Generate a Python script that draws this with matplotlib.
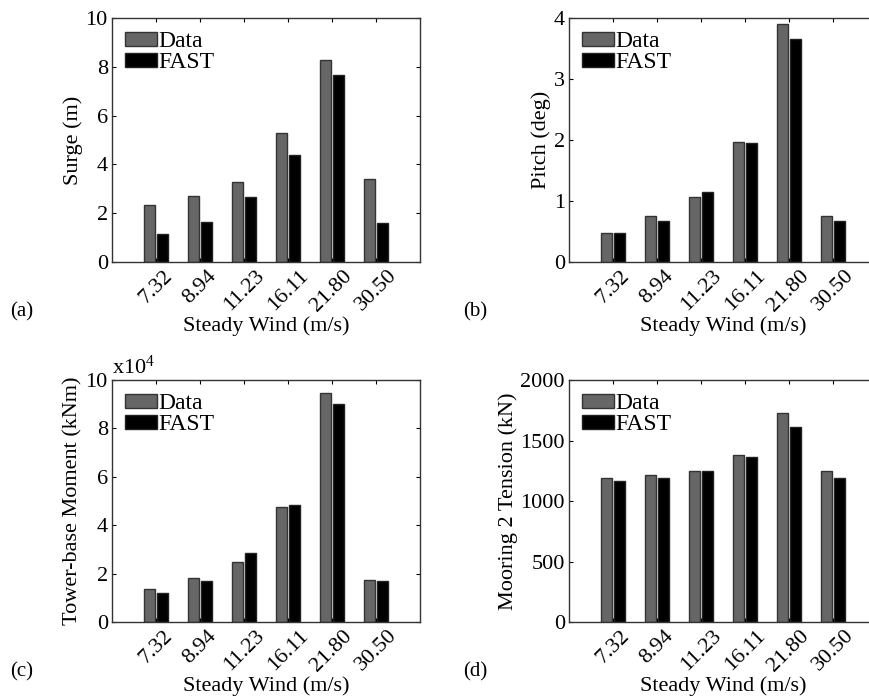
import numpy as np
import matplotlib
matplotlib.use('Agg')
from matplotlib import pyplot as plt
from matplotlib.ticker import FuncFormatter

plt.rcParams['font.family'] = ['Liberation Serif', 'DejaVu Serif']
plt.rcParams['mathtext.fontset'] = 'custom'
plt.rcParams['mathtext.rm'] = 'Liberation Serif'
plt.rcParams['font.size'] = 16

winds = ['7.32', '8.94', '11.23', '16.11', '21.80', '30.50']

surge_data = [2.34, 2.71, 3.29, 5.27, 8.29, 3.41]
surge_fast = [1.14, 1.62, 2.67, 4.40, 7.66, 1.58]

pitch_data = [0.48, 0.76, 1.07, 1.97, 3.90, 0.76]
pitch_fast = [0.48, 0.68, 1.15, 1.95, 3.66, 0.68]

moment_data = [13500, 18300, 24900, 47400, 94500, 17200]
moment_fast = [12000, 17000, 28600, 48400, 90300, 16800]

tension_data = [1187, 1212, 1250, 1382, 1728, 1250]
tension_fast = [1162, 1187, 1247, 1360, 1615, 1187]

gray = '#666666'
fig = plt.figure(figsize=(8.7, 7), dpi=100)

def panel(rect, d, f, ylabel, yticks, tag, tagpos, fmt=None):
    ax = fig.add_axes(rect)
    x = np.arange(1, len(winds) + 1)
    ax.bar(x - 0.15, d, 0.25, color=gray, edgecolor='#333333', linewidth=1, label='Data')
    ax.bar(x + 0.15, f, 0.25, color='black', edgecolor='#222222', linewidth=1, label='FAST')
    ax.set_xlim(0, 7)
    ax.set_ylim(yticks[0], yticks[-1])
    ax.set_xticks(x)
    ax.set_xticklabels(winds, rotation=45, ha='center')
    ax.set_yticks(yticks)
    if fmt is not None:
        ax.yaxis.set_major_formatter(fmt)
    ax.tick_params(direction='in', top=True, right=True, length=3, width=0.8, pad=3, labelsize=16)
    ax.set_xlabel('Steady Wind (m/s)', fontsize=16, labelpad=1)
    ax.set_ylabel(ylabel, fontsize=16, labelpad=2)
    ax.legend(loc='upper left', frameon=False, handlelength=1.35, handleheight=0.55,
              handletextpad=0.05, labelspacing=0.0, borderaxespad=0.15, fontsize=17)
    for s in ax.spines.values():
        s.set_linewidth(1.0)
        s.set_color('#333333')
    fig.text(tagpos[0], tagpos[1], tag, ha='center', va='center', fontsize=15)
    return ax

panel([0.1287, 0.6257, 0.354, 0.3486], surge_data, surge_fast, 'Surge (m)',
      [0, 2, 4, 6, 8, 10], '(a)', (22 / 870, 1 - 312 / 700))
panel([0.654, 0.6257, 0.354, 0.3486], pitch_data, pitch_fast, 'Pitch (deg)',
      [0, 1, 2, 3, 4], '(b)', (475 / 870, 1 - 312 / 700))
axc = panel([0.1287, 0.1114, 0.354, 0.3457], moment_data, moment_fast, 'Tower-base Moment (kNm)',
            [0, 20000, 40000, 60000, 80000, 100000], '(c)', (22 / 870, 1 - 672 / 700),
            fmt=FuncFormatter(lambda v, p: '%g' % (v / 1e4)))
axc.text(0.0, 1.005, r'x$\mathregular{10^4}$', transform=axc.transAxes, ha='left', va='bottom', fontsize=16)
panel([0.654, 0.1114, 0.354, 0.3457], tension_data, tension_fast, 'Mooring 2 Tension (kN)',
      [0, 500, 1000, 1500, 2000], '(d)', (475 / 870, 1 - 672 / 700))

fig.savefig('out.png', dpi=100)
